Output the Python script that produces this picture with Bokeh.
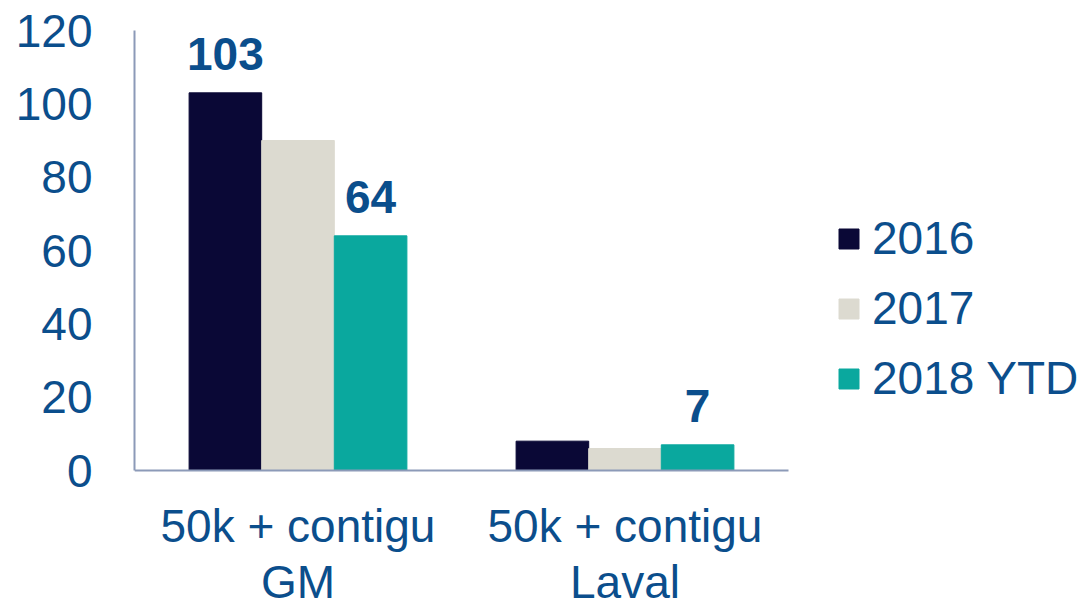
from bokeh.plotting import figure
from bokeh.models import ColumnDataSource, Legend, LegendItem, Range1d, FixedTicker
from bokeh.transform import dodge
from bokeh.core.properties import value
from bokeh.embed import file_html
from bokeh.resources import INLINE

categories = ["50k + contigu\nGM", "50k + contigu\nLaval"]
series = ["2016", "2017", "2018 YTD"]
v2016 = [103, 8]
v2017 = [90, 6]
v2018 = [64, 7]
labels2016 = ["103", ""]
labels2018 = ["64", "7"]
y_ticks = [0, 20, 40, 60, 80, 100, 120]
colors = ["#0A0836", "#DCDAD0", "#0AA89E"]
TXT = "#0B4E8C"
AXIS = "#8C9AB8"
FONT = "Liberation Sans"

xpos = [i + 0.5 for i in range(len(categories))]
src = ColumnDataSource(dict(x=xpos, v2016=v2016, v2017=v2017, v2018=v2018,
                            l2016=labels2016, l2018=labels2018))

# frame: x from 134 to 1089 px, 327 px per category; y from 30 px (120) down to page bottom
n = len(categories)
x_end = n * (1089 - 134) / (788 - 134)
y_start = -(602 - 470) * 120 / (470 - 30)

p = figure(x_range=Range1d(0, x_end), y_range=Range1d(y_start, 120),
           width=1089, height=602, output_backend="svg", toolbar_location=None,
           min_border_left=134, min_border_right=0, min_border_top=30, min_border_bottom=0)
p.outline_line_color = None
p.grid.grid_line_color = None
p.background_fill_color = "white"

w = 0.222
offs = [-w, 0.0, w]
keys = ["v2016", "v2017", "v2018"]
rs = []
for k, o, c in zip(keys, offs, colors):
    r = p.vbar(x=dodge("x", o), top=k, width=w, source=src,
               fill_color=c, line_color=c)
    rs.append(r)

for lk, vk, o in [("l2016", "v2016", offs[0]), ("l2018", "v2018", offs[2])]:
    p.text(x=dodge("x", o), y=vk, text=lk, source=src,
           text_align="center", text_baseline="alphabetic", y_offset=-39,
           text_font=value(FONT), text_font_style="bold", text_font_size="46px", text_color=TXT)

for ax in (p.xaxis[0], p.yaxis[0]):
    ax.axis_line_color = AXIS
    ax.axis_line_width = 2
    ax.major_tick_line_color = None
    ax.minor_tick_line_color = None
    ax.major_tick_out = 0
    ax.major_tick_in = 0
    ax.minor_tick_out = 0
    ax.minor_tick_in = 0
    ax.major_label_text_font = FONT
    ax.major_label_text_font_size = "46px"
    ax.major_label_text_color = TXT

p.yaxis[0].ticker = FixedTicker(ticks=y_ticks)
p.yaxis[0].bounds = (0, 120)
p.yaxis[0].major_label_standoff = 42

p.xaxis[0].fixed_location = 0
p.xaxis[0].bounds = (0, n)
p.xaxis[0].ticker = FixedTicker(ticks=xpos)
p.xaxis[0].major_label_overrides = {x: c for x, c in zip(xpos, categories)}
p.xaxis[0].major_label_standoff = 29
p.xaxis[0].major_label_text_line_height = 1.08
p.xaxis[0].major_label_orientation = "horizontal"

legend = Legend(items=[LegendItem(label=s, renderers=[r]) for s, r in zip(series, rs)],
                location=(702, 197), padding=0, margin=0, spacing=16,
                glyph_width=25, glyph_height=25, label_standoff=11,
                label_text_font=FONT, label_text_font_size="46px", label_text_color=TXT,
                border_line_color=None, background_fill_alpha=0)
p.add_layout(legend, "center")

open("out.html", "w").write(file_html(p, INLINE))
